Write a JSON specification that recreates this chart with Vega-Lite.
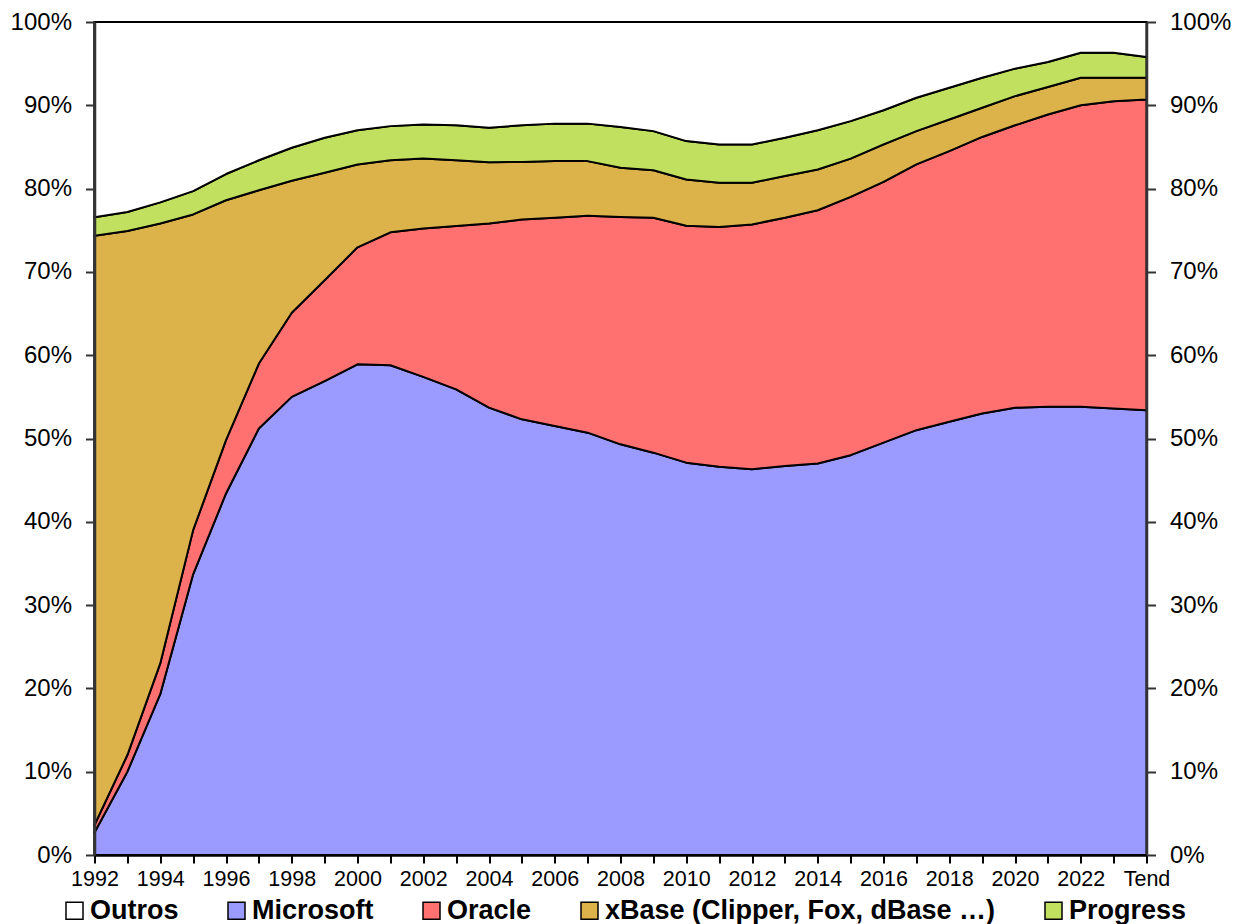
{
"$schema": "https://vega.github.io/schema/vega-lite/v6.json",
"width": 1052,
"height": 833,
"padding": {"left": 9.5, "top": 10, "right": 5, "bottom": 5},
"background": "white",
"config": {"view": {"stroke": "black", "strokeWidth": 2}, "font": "Liberation Sans", "axis": {"grid": false}},
"data": {"values": [
{"year":"1992","db":"Microsoft","share":2.7},{"year":"1992","db":"Oracle","share":0.9},{"year":"1992","db":"xBase (Clipper, Fox, dBase …)","share":70.75},{"year":"1992","db":"Progress","share":2.2},{"year":"1992","db":"Outros","share":23.45},
{"year":"1993","db":"Microsoft","share":10.0},{"year":"1993","db":"Oracle","share":2.0},{"year":"1993","db":"xBase (Clipper, Fox, dBase …)","share":62.9},{"year":"1993","db":"Progress","share":2.3},{"year":"1993","db":"Outros","share":22.8},
{"year":"1994","db":"Microsoft","share":19.3},{"year":"1994","db":"Oracle","share":3.7},{"year":"1994","db":"xBase (Clipper, Fox, dBase …)","share":52.8},{"year":"1994","db":"Progress","share":2.55},{"year":"1994","db":"Outros","share":21.65},
{"year":"1995","db":"Microsoft","share":33.7},{"year":"1995","db":"Oracle","share":5.3},{"year":"1995","db":"xBase (Clipper, Fox, dBase …)","share":37.9},{"year":"1995","db":"Progress","share":2.8},{"year":"1995","db":"Outros","share":20.3},
{"year":"1996","db":"Microsoft","share":43.4},{"year":"1996","db":"Oracle","share":6.4},{"year":"1996","db":"xBase (Clipper, Fox, dBase …)","share":28.8},{"year":"1996","db":"Progress","share":3.15},{"year":"1996","db":"Outros","share":18.25},
{"year":"1997","db":"Microsoft","share":51.2},{"year":"1997","db":"Oracle","share":7.8},{"year":"1997","db":"xBase (Clipper, Fox, dBase …)","share":20.8},{"year":"1997","db":"Progress","share":3.6},{"year":"1997","db":"Outros","share":16.6},
{"year":"1998","db":"Microsoft","share":55.0},{"year":"1998","db":"Oracle","share":10.1},{"year":"1998","db":"xBase (Clipper, Fox, dBase …)","share":15.85},{"year":"1998","db":"Progress","share":3.95},{"year":"1998","db":"Outros","share":15.1},
{"year":"1999","db":"Microsoft","share":56.9},{"year":"1999","db":"Oracle","share":12.1},{"year":"1999","db":"xBase (Clipper, Fox, dBase …)","share":12.9},{"year":"1999","db":"Progress","share":4.2},{"year":"1999","db":"Outros","share":13.9},
{"year":"2000","db":"Microsoft","share":58.9},{"year":"2000","db":"Oracle","share":14.05},{"year":"2000","db":"xBase (Clipper, Fox, dBase …)","share":9.95},{"year":"2000","db":"Progress","share":4.1},{"year":"2000","db":"Outros","share":13.0},
{"year":"2001","db":"Microsoft","share":58.8},{"year":"2001","db":"Oracle","share":15.95},{"year":"2001","db":"xBase (Clipper, Fox, dBase …)","share":8.65},{"year":"2001","db":"Progress","share":4.1},{"year":"2001","db":"Outros","share":12.5},
{"year":"2002","db":"Microsoft","share":57.4},{"year":"2002","db":"Oracle","share":17.8},{"year":"2002","db":"xBase (Clipper, Fox, dBase …)","share":8.4},{"year":"2002","db":"Progress","share":4.1},{"year":"2002","db":"Outros","share":12.3},
{"year":"2003","db":"Microsoft","share":55.9},{"year":"2003","db":"Oracle","share":19.6},{"year":"2003","db":"xBase (Clipper, Fox, dBase …)","share":7.9},{"year":"2003","db":"Progress","share":4.2},{"year":"2003","db":"Outros","share":12.4},
{"year":"2004","db":"Microsoft","share":53.7},{"year":"2004","db":"Oracle","share":22.1},{"year":"2004","db":"xBase (Clipper, Fox, dBase …)","share":7.35},{"year":"2004","db":"Progress","share":4.15},{"year":"2004","db":"Outros","share":12.7},
{"year":"2005","db":"Microsoft","share":52.3},{"year":"2005","db":"Oracle","share":24.0},{"year":"2005","db":"xBase (Clipper, Fox, dBase …)","share":6.9},{"year":"2005","db":"Progress","share":4.4},{"year":"2005","db":"Outros","share":12.4},
{"year":"2006","db":"Microsoft","share":51.5},{"year":"2006","db":"Oracle","share":25.0},{"year":"2006","db":"xBase (Clipper, Fox, dBase …)","share":6.8},{"year":"2006","db":"Progress","share":4.5},{"year":"2006","db":"Outros","share":12.2},
{"year":"2007","db":"Microsoft","share":50.7},{"year":"2007","db":"Oracle","share":26.05},{"year":"2007","db":"xBase (Clipper, Fox, dBase …)","share":6.55},{"year":"2007","db":"Progress","share":4.5},{"year":"2007","db":"Outros","share":12.2},
{"year":"2008","db":"Microsoft","share":49.3},{"year":"2008","db":"Oracle","share":27.3},{"year":"2008","db":"xBase (Clipper, Fox, dBase …)","share":5.9},{"year":"2008","db":"Progress","share":4.9},{"year":"2008","db":"Outros","share":12.6},
{"year":"2009","db":"Microsoft","share":48.3},{"year":"2009","db":"Oracle","share":28.2},{"year":"2009","db":"xBase (Clipper, Fox, dBase …)","share":5.7},{"year":"2009","db":"Progress","share":4.7},{"year":"2009","db":"Outros","share":13.1},
{"year":"2010","db":"Microsoft","share":47.1},{"year":"2010","db":"Oracle","share":28.45},{"year":"2010","db":"xBase (Clipper, Fox, dBase …)","share":5.55},{"year":"2010","db":"Progress","share":4.6},{"year":"2010","db":"Outros","share":14.3},
{"year":"2011","db":"Microsoft","share":46.6},{"year":"2011","db":"Oracle","share":28.8},{"year":"2011","db":"xBase (Clipper, Fox, dBase …)","share":5.3},{"year":"2011","db":"Progress","share":4.6},{"year":"2011","db":"Outros","share":14.7},
{"year":"2012","db":"Microsoft","share":46.3},{"year":"2012","db":"Oracle","share":29.4},{"year":"2012","db":"xBase (Clipper, Fox, dBase …)","share":5.0},{"year":"2012","db":"Progress","share":4.6},{"year":"2012","db":"Outros","share":14.7},
{"year":"2013","db":"Microsoft","share":46.7},{"year":"2013","db":"Oracle","share":29.8},{"year":"2013","db":"xBase (Clipper, Fox, dBase …)","share":5.0},{"year":"2013","db":"Progress","share":4.6},{"year":"2013","db":"Outros","share":13.9},
{"year":"2014","db":"Microsoft","share":47.0},{"year":"2014","db":"Oracle","share":30.4},{"year":"2014","db":"xBase (Clipper, Fox, dBase …)","share":4.9},{"year":"2014","db":"Progress","share":4.7},{"year":"2014","db":"Outros","share":13.0},
{"year":"2015","db":"Microsoft","share":48.0},{"year":"2015","db":"Oracle","share":31.0},{"year":"2015","db":"xBase (Clipper, Fox, dBase …)","share":4.6},{"year":"2015","db":"Progress","share":4.5},{"year":"2015","db":"Outros","share":11.9},
{"year":"2016","db":"Microsoft","share":49.5},{"year":"2016","db":"Oracle","share":31.3},{"year":"2016","db":"xBase (Clipper, Fox, dBase …)","share":4.5},{"year":"2016","db":"Progress","share":4.1},{"year":"2016","db":"Outros","share":10.6},
{"year":"2017","db":"Microsoft","share":51.0},{"year":"2017","db":"Oracle","share":31.9},{"year":"2017","db":"xBase (Clipper, Fox, dBase …)","share":4.0},{"year":"2017","db":"Progress","share":4.0},{"year":"2017","db":"Outros","share":9.1},
{"year":"2018","db":"Microsoft","share":52.0},{"year":"2018","db":"Oracle","share":32.5},{"year":"2018","db":"xBase (Clipper, Fox, dBase …)","share":3.8},{"year":"2018","db":"Progress","share":3.8},{"year":"2018","db":"Outros","share":7.9},
{"year":"2019","db":"Microsoft","share":53.0},{"year":"2019","db":"Oracle","share":33.2},{"year":"2019","db":"xBase (Clipper, Fox, dBase …)","share":3.5},{"year":"2019","db":"Progress","share":3.6},{"year":"2019","db":"Outros","share":6.7},
{"year":"2020","db":"Microsoft","share":53.7},{"year":"2020","db":"Oracle","share":33.9},{"year":"2020","db":"xBase (Clipper, Fox, dBase …)","share":3.5},{"year":"2020","db":"Progress","share":3.3},{"year":"2020","db":"Outros","share":5.6},
{"year":"2021","db":"Microsoft","share":53.8},{"year":"2021","db":"Oracle","share":35.1},{"year":"2021","db":"xBase (Clipper, Fox, dBase …)","share":3.3},{"year":"2021","db":"Progress","share":3.0},{"year":"2021","db":"Outros","share":4.8},
{"year":"2022","db":"Microsoft","share":53.8},{"year":"2022","db":"Oracle","share":36.2},{"year":"2022","db":"xBase (Clipper, Fox, dBase …)","share":3.3},{"year":"2022","db":"Progress","share":3.0},{"year":"2022","db":"Outros","share":3.7},
{"year":"2023","db":"Microsoft","share":53.6},{"year":"2023","db":"Oracle","share":36.9},{"year":"2023","db":"xBase (Clipper, Fox, dBase …)","share":2.8},{"year":"2023","db":"Progress","share":3.0},{"year":"2023","db":"Outros","share":3.7},
{"year":"Tend","db":"Microsoft","share":53.4},{"year":"Tend","db":"Oracle","share":37.3},{"year":"Tend","db":"xBase (Clipper, Fox, dBase …)","share":2.6},{"year":"Tend","db":"Progress","share":2.5},{"year":"Tend","db":"Outros","share":4.2}
]},
"transform": [
{"calculate": "indexof(['Microsoft','Oracle','xBase (Clipper, Fox, dBase …)','Progress','Outros'], datum.db)", "as": "stackOrder"}
],
"layer": [
{
"mark": {"type": "area", "stroke": "black", "strokeWidth": 2, "strokeJoin": "round"},
"encoding": {
"x": {"field": "year", "type": "ordinal", "scale": {"type": "point", "padding": 0},
 "axis": {"title": null, "labelAngle": 0, "labelExpr": "datum.value == 'Tend' || toNumber(datum.value) % 2 == 0 ? datum.label : ''", "labelFont": "Liberation Sans", "labelFontSize": 21.5, "labelColor": "black", "labelOverlap": false, "labelPadding": 5, "tickSize": 8, "tickWidth": 2, "tickColor": "black", "domainColor": "black", "domainWidth": 2.5, "zindex": 1}},
"y": {"field": "share", "type": "quantitative", "stack": "zero", "scale": {"domain": [0, 100], "nice": false},
 "axis": {"title": null, "orient": "left", "values": [0,10,20,30,40,50,60,70,80,90,100], "labelExpr": "datum.value + '%'", "labelFont": "Liberation Sans", "labelFontSize": 24, "labelColor": "black", "labelPadding": 14, "tickSize": 9, "tickWidth": 2, "tickColor": "#333333", "domainColor": "#333333", "domainWidth": 2.5, "zindex": 1}},
"color": {"field": "db", "type": "nominal",
 "scale": {"domain": ["Outros","Microsoft","Oracle","xBase (Clipper, Fox, dBase …)","Progress"], "range": ["#ffffff","#9a9aff","#ff7070","#dcb24a","#c2e060"]},
 "legend": {"title": null, "orient": "none", "legendX": -33.5, "legendY": 875, "direction": "horizontal", "symbolType": "square", "symbolSize": 289, "symbolStrokeColor": "black", "symbolStrokeWidth": 1.5, "labelFont": "Liberation Sans", "labelFontSize": 27, "labelFontWeight": "bold", "labelColor": "black", "labelOffset": 2, "columnPadding": 44, "labelLimit": 0}},
"order": {"field": "stackOrder", "type": "quantitative"}
}
},
{
"mark": {"type": "point", "opacity": 0},
"encoding": {
"x": {"field": "year", "type": "ordinal", "scale": {"type": "point", "padding": 0},
 "axis": {"title": null, "labelAngle": 0, "labelExpr": "datum.value == 'Tend' || toNumber(datum.value) % 2 == 0 ? datum.label : ''", "labelFont": "Liberation Sans", "labelFontSize": 21.5, "labelColor": "black", "labelOverlap": false, "labelPadding": 5, "tickSize": 8, "tickWidth": 2, "tickColor": "black", "domainColor": "black", "domainWidth": 2.5, "zindex": 1}},
"y": {"field": "share", "type": "quantitative", "scale": {"domain": [0, 100], "nice": false},
 "axis": {"title": null, "orient": "right", "values": [0,10,20,30,40,50,60,70,80,90,100], "labelExpr": "datum.value + '%'", "labelFont": "Liberation Sans", "labelFontSize": 24, "labelColor": "black", "labelPadding": 14, "tickSize": 9, "tickWidth": 2, "tickColor": "#333333", "domainColor": "#333333", "domainWidth": 2.5, "zindex": 1}}
}
}
],
"resolve": {"axis": {"y": "independent"}}
}
